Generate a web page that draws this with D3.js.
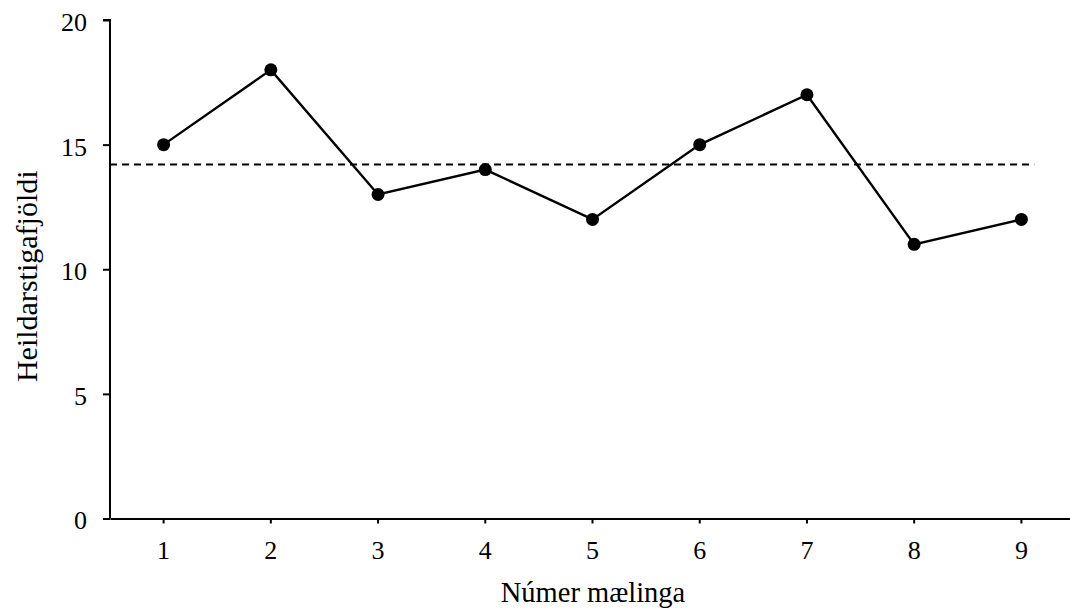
<!DOCTYPE html>
<html>
<head>
<meta charset="utf-8">
<script src="https://cdn.jsdelivr.net/npm/d3@7"></script>
<style>
  body { margin: 0; background: #fff; }
  text { font-family: "Liberation Serif", "Times New Roman", serif; fill: #000; }
</style>
</head>
<body>
<div id="chart"></div>
<script>
var measurements = ['1','2','3','4','5','6','7','8','9'];
var scores = [15, 18, 13, 14, 12, 15, 17, 11, 12];
var meanLevel = 14.2;
var yTicks = [0, 5, 10, 15, 20];
var xTitle = 'Númer mælinga';
var yTitle = 'Heildarstigafjöldi';

var width = 1070, height = 613;
var margin = {top: 20, left: 110, bottom: 94.5};

var svg = d3.select('#chart').append('svg')
    .attr('width', width)
    .attr('height', height);

var xScale = d3.scaleBand()
    .domain(measurements)
    .range([margin.left, margin.left + 965]);

var yScale = d3.scaleLinear()
    .domain([0, 20])
    .range([height - margin.bottom, margin.top]);

var cx = function(d, i) { return xScale(measurements[i]) + xScale.bandwidth() / 2; };

// y axis
var yAxis = d3.axisLeft(yScale).tickValues(yTicks).tickSize(7).tickPadding(16);
var yG = svg.append('g')
    .attr('transform', 'translate(' + margin.left + ',0)')
    .call(yAxis);
yG.select('.domain').attr('stroke', '#000').attr('stroke-width', 2).attr('d', 'M-7,' + yScale(20) + 'H0V' + yScale(0));
yG.selectAll('line').attr('stroke', '#000').attr('stroke-width', 2);
yG.selectAll('text').style('font-size', '26px').attr('dy', '0.4em');

// x axis
var xAxis = d3.axisBottom(xScale).tickSize(5).tickPadding(17).tickSizeOuter(0);
var xG = svg.append('g')
    .attr('transform', 'translate(0,' + yScale(0) + ')')
    .call(xAxis);
xG.select('.domain').attr('stroke', '#000').attr('stroke-width', 2);
xG.selectAll('line').attr('stroke', '#000').attr('stroke-width', 2);
xG.selectAll('text').style('font-size', '26px');

// dashed mean line
svg.append('line')
    .attr('x1', margin.left)
    .attr('x2', xScale(measurements[measurements.length - 1]) + xScale.bandwidth() * 0.62)
    .attr('y1', yScale(meanLevel))
    .attr('y2', yScale(meanLevel))
    .attr('stroke', '#000')
    .attr('stroke-width', 2)
    .attr('stroke-dasharray', '7,5');

// series line
var line = d3.line()
    .x(cx)
    .y(function(d) { return yScale(d); });

svg.append('path')
    .datum(scores)
    .attr('d', line)
    .attr('fill', 'none')
    .attr('stroke', '#000')
    .attr('stroke-width', 2.4);

svg.selectAll('circle.pt').data(scores)
    .enter().append('circle')
    .attr('class', 'pt')
    .attr('cx', cx)
    .attr('cy', function(d) { return yScale(d); })
    .attr('r', 6.5)
    .attr('fill', '#000');

// titles
svg.append('text')
    .attr('x', 593)
    .attr('y', 602)
    .attr('text-anchor', 'middle')
    .style('font-size', '28.5px')
    .text(xTitle);

svg.append('text')
    .attr('transform', 'translate(37,' + ((yScale(0) + yScale(20)) / 2 + 7) + ') rotate(-90)')
    .attr('text-anchor', 'middle')
    .style('font-size', '30px')
    .text(yTitle);
</script>
</body>
</html>
